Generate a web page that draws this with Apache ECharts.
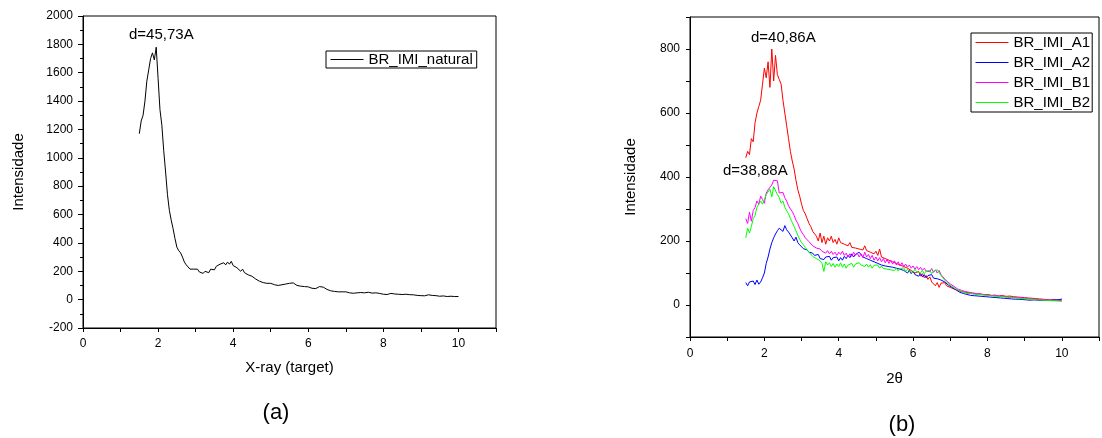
<!DOCTYPE html>
<html>
<head>
<meta charset="utf-8">
<script src="https://cdn.jsdelivr.net/npm/echarts@6.0.0/dist/echarts.min.js"></script>
<style>
html,body{margin:0;padding:0;background:#fff;}
#chart{width:1102px;height:438px;}
</style>
</head>
<body>
<div id="chart"></div>
<script>
// shared x grid (2θ / X-ray target)
const xs = [
1.5,1.55,1.6,1.65,1.7,1.75,1.8,1.85,1.9,1.95,
2,2.05,2.1,2.15,2.2,2.25,2.3,2.35,2.4,2.45,
2.5,2.55,2.6,2.65,2.7,2.75,2.8,2.85,2.9,2.95,
3,3.05,3.1,3.15,3.2,3.25,3.3,3.35,3.4,3.45,
3.5,3.55,3.6,3.65,3.7,3.75,3.8,3.85,3.9,3.95,
4,4.05,4.1,4.15,4.2,4.25,4.3,4.35,4.4,4.45,
4.5,4.55,4.6,4.65,4.7,4.75,4.8,4.85,4.9,4.95,
5,5.05,5.1,5.15,5.2,5.25,5.3,5.35,5.4,5.45,
5.5,5.55,5.6,5.65,5.7,5.75,5.8,5.85,5.9,5.95,
6,6.05,6.1,6.15,6.2,6.25,6.3,6.35,6.4,6.45,
6.5,6.55,6.6,6.65,6.7,6.75,6.8,6.85,6.9,6.95,
7,7.05,7.1,7.15,7.2,7.25,7.3,7.35,7.4,7.45,
7.5,7.55,7.6,7.65,7.7,7.75,7.8,7.85,7.9,7.95,
8,8.05,8.1,8.15,8.2,8.25,8.3,8.35,8.4,8.45,
8.5,8.55,8.6,8.65,8.7,8.75,8.8,8.85,8.9,8.95,
9,9.05,9.1,9.15,9.2,9.25,9.3,9.35,9.4,9.45,
9.5,9.55,9.6,9.65,9.7,9.75,9.8,9.85,9.9,9.95,
10];

const natural = [
1170,1260,1300,1400,1540,1620,1700,1740,1690,1780,
1560,1340,1230,1050,900,740,630,560,500,430,
370,345,330,300,265,245,232,215,225,215,
205,215,195,200,185,200,210,190,215,220,
210,235,225,250,240,260,245,265,250,270,
240,250,225,230,200,215,190,200,175,180,
165,175,145,140,130,140,120,125,115,110,
115,125,105,110,100,110,105,100,110,108,
115,112,118,105,100,110,95,100,92,98,
90,95,80,88,78,90,92,95,88,80,
72,65,62,68,58,62,55,60,55,52,
55,50,48,52,45,55,48,45,50,44,
48,42,52,44,46,42,48,50,44,40,
38,42,36,38,44,35,40,36,38,32,
36,34,38,32,35,30,34,36,30,32,
28,32,27,30,34,28,30,26,28,30,
24,28,26,29,22,26,24,28,22,27,
22];

const a1 = [
460,480,470,520,510,570,600,620,640,690,
740,710,760,680,800,700,780,720,705,690,
640,600,560,520,480,450,425,390,360,340,
315,295,285,270,255,245,230,225,215,200,
225,195,215,190,210,200,215,195,205,190,
210,195,200,190,195,185,195,180,185,178,
182,175,180,172,185,170,175,165,170,160,
168,155,175,150,155,145,150,140,145,135,
140,130,135,125,130,120,125,115,118,108,
112,100,95,105,90,98,85,92,80,88,
72,78,60,70,55,68,62,70,60,65,
55,58,50,52,45,48,42,45,40,42,
38,40,36,42,34,40,35,38,32,36,
33,38,30,34,31,36,28,32,30,36,
27,30,28,32,26,30,25,29,24,30,
23,26,22,25,21,24,20,23,19,22,
18,21,17,22,16,20,17,19,15,18,
16];

const a2 = [
70,60,72,66,75,64,78,65,72,85,
100,130,150,175,195,210,222,232,240,236,
230,248,235,228,222,210,200,212,195,188,
182,176,170,172,165,160,162,155,150,158,
145,150,142,150,145,152,140,148,142,150,
138,148,140,152,145,155,148,160,150,158,
152,165,170,150,155,145,150,140,145,135,
140,130,135,125,130,122,128,120,125,118,
122,115,120,112,115,108,112,100,108,98,
105,95,100,90,98,88,95,85,92,88,
95,84,90,82,88,78,82,72,70,62,
60,55,50,48,44,40,38,36,35,33,
34,30,32,29,31,28,30,27,29,26,
28,25,27,24,26,23,25,22,24,21,
23,20,22,19,21,18,20,18,19,17,
19,16,18,15,17,16,18,15,17,14,
16,15,17,14,16,15,17,16,18,17,
19];

const b1 = [
270,255,290,262,295,305,325,315,340,330,
318,350,360,365,375,390,385,388,350,345,
352,335,325,310,300,292,280,265,255,240,
228,220,210,205,198,195,185,182,178,172,
175,168,172,162,170,160,168,158,165,155,
165,158,168,155,162,150,160,152,165,155,
162,150,160,148,165,150,158,145,155,140,
150,138,148,135,145,132,142,130,140,128,
138,125,135,122,132,120,128,118,125,115,
122,112,120,110,118,108,115,106,112,104,
114,102,110,100,108,95,88,82,75,70,
66,62,58,55,50,52,46,48,42,45,
40,43,38,41,36,40,34,38,33,36,
32,35,30,34,29,32,28,31,27,30,
26,29,25,28,24,27,23,26,22,25,
21,24,20,23,19,22,18,21,17,20,
16,19,16,18,15,17,14,16,14,15,
13];

const b2 = [
210,240,225,245,270,280,305,300,325,315,
330,345,340,362,338,370,375,345,336,318,
325,305,300,285,270,258,245,232,218,205,
195,188,180,175,165,160,152,148,145,140,
138,130,105,135,125,132,120,130,118,128,
120,132,118,128,115,125,120,130,118,128,
122,132,125,130,120,128,118,126,115,124,
118,125,115,122,114,120,112,118,110,116,
108,115,106,114,108,116,105,112,104,110,
102,112,104,110,100,108,98,106,100,108,
98,106,100,110,102,92,85,78,72,66,
62,58,54,50,48,45,42,40,38,36,
34,36,32,34,30,33,29,32,28,30,
27,29,26,28,25,27,24,26,23,25,
22,24,21,23,20,22,19,21,18,20,
17,19,16,18,15,17,14,16,14,15,
13,15,12,14,12,13,11,13,11,12,
12];

const namesB = ['BR_IMI_A1','BR_IMI_A2','BR_IMI_B1','BR_IMI_B2'];
const colorsB = ['#ff0000','#0000ff','#ff00ff','#00ff00'];
const valuesB = [a1, a2, b1, b2];

const FONT = "'Liberation Sans', Arial, Helvetica, sans-serif";
const pairs = (arr) => xs.map((x, i) => [x, arr[i]]);

const axisCommon = {
  axisLine: {show: true, onZero: false, lineStyle: {color: '#000', width: 1}},
  axisTick: {show: true, length: 4, lineStyle: {color: '#000', width: 1}},
  splitLine: {show: false},
  axisLabel: {color: '#000', fontSize: 12, fontFamily: FONT},
  nameTextStyle: {color: '#000', fontSize: 15, fontFamily: FONT}
};

const chart = echarts.init(document.getElementById('chart'), null, {renderer: 'canvas'});

const series = [{
  name: 'BR_IMI_natural', type: 'line', xAxisIndex: 0, yAxisIndex: 0,
  data: pairs(natural), showSymbol: false, symbol: 'none',
  lineStyle: {color: '#000', width: 1}, itemStyle: {color: '#000'}
}];
namesB.forEach((n, k) => {
  series.push({
    name: n, type: 'line', xAxisIndex: 1, yAxisIndex: 1,
    data: pairs(valuesB[k]), showSymbol: false, symbol: 'none',
    lineStyle: {color: colorsB[k], width: 1}, itemStyle: {color: colorsB[k]}
  });
});

const legendCommon = {
  backgroundColor: '#fff', borderColor: '#000', borderWidth: 1, borderRadius: 0,
  itemWidth: 33, itemHeight: 14,
  itemStyle: {opacity: 0},
  lineStyle: {width: 1},
  textStyle: {color: '#000', fontSize: 15, fontFamily: FONT, lineHeight: 15}
};

const option = {
  animation: false,
  backgroundColor: '#fff',
  grid: [
    {left: 83, top: 16, width: 413, height: 312, show: true, borderColor: '#000', borderWidth: 1, backgroundColor: 'transparent'},
    {left: 690, top: 17, width: 422, height: 320, show: true, borderColor: '#000', borderWidth: 1, backgroundColor: 'transparent'}
  ],
  xAxis: [
    Object.assign({}, axisCommon, {
      gridIndex: 0, type: 'value', min: 0, max: 11, interval: 1,
      name: 'X-ray (target)', nameLocation: 'middle', nameGap: 32,
      axisLabel: Object.assign({}, axisCommon.axisLabel, {margin: 10,
        formatter: v => (v % 2 === 0 && v <= 10) ? String(v) : ''})
    }),
    Object.assign({}, axisCommon, {
      gridIndex: 1, type: 'value', min: 0, max: 11, interval: 1,
      name: '2θ', nameLocation: 'middle', nameGap: 34,
      axisLabel: Object.assign({}, axisCommon.axisLabel, {margin: 11,
        formatter: v => (v % 2 === 0 && v <= 10) ? String(v) : ''})
    })
  ],
  yAxis: [
    Object.assign({}, axisCommon, {
      gridIndex: 0, type: 'value', min: -200, max: 2000, interval: 200,
      name: 'Intensidade', nameLocation: 'middle', nameGap: 57,
      axisTick: {show: true, length: 5, lineStyle: {color: '#000', width: 1}},
      minorTick: {show: true, splitNumber: 2, length: 3, lineStyle: {color: '#000', width: 1}},
      minorSplitLine: {show: false},
      axisLabel: Object.assign({}, axisCommon.axisLabel, {margin: 10,
        formatter: v => String(v)})
    }),
    Object.assign({}, axisCommon, {
      gridIndex: 1, type: 'value', min: -100, max: 900, interval: 100,
      name: 'Intensidade', nameLocation: 'middle', nameGap: 52,
      axisLabel: Object.assign({}, axisCommon.axisLabel, {margin: 10,
        formatter: v => (v >= 0 && v <= 800 && v % 200 === 0) ? String(v) : ''})
    })
  ],
  legend: [
    Object.assign({}, legendCommon, {
      data: ['BR_IMI_natural'], left: 326, top: 51, orient: 'horizontal',
      padding: [1, 4, 1, 4], itemGap: 5
    }),
    Object.assign({}, legendCommon, {
      data: namesB, left: 971, top: 33, orient: 'vertical',
      padding: [2, 2, 2, 4], itemGap: 5
    })
  ],
  graphic: [
    {type: 'text', x: 129, y: 35, silent: true,
     style: {text: 'd=45,73A', fill: '#000', fontSize: 15, fontFamily: FONT, textAlign: 'left', textVerticalAlign: 'middle', verticalAlign: 'middle'}},
    {type: 'text', x: 751, y: 38, silent: true,
     style: {text: 'd=40,86A', fill: '#000', fontSize: 15, fontFamily: FONT, textAlign: 'left', textVerticalAlign: 'middle', verticalAlign: 'middle'}},
    {type: 'text', x: 723, y: 171, silent: true,
     style: {text: 'd=38,88A', fill: '#000', fontSize: 15, fontFamily: FONT, textAlign: 'left', textVerticalAlign: 'middle', verticalAlign: 'middle'}},
    {type: 'text', x: 276, y: 413, silent: true,
     style: {text: '(a)', fill: '#000', fontSize: 22, fontFamily: FONT, textAlign: 'center', textVerticalAlign: 'middle', verticalAlign: 'middle'}},
    {type: 'text', x: 902, y: 425, silent: true,
     style: {text: '(b)', fill: '#000', fontSize: 22, fontFamily: FONT, textAlign: 'center', textVerticalAlign: 'middle', verticalAlign: 'middle'}}
  ],
  series: series
};
chart.setOption(option);
</script>
</body>
</html>
